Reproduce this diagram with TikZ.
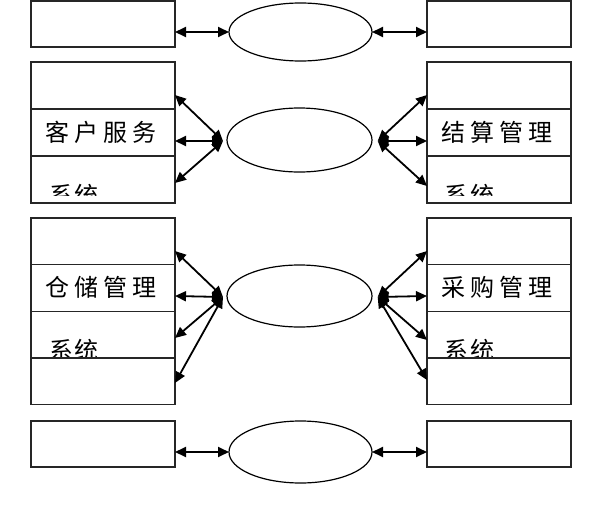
\documentclass[tikz,border=0pt]{standalone}
\usepackage{fontspec}
\newfontfamily\cjk{Noto Sans CJK SC}
\usetikzlibrary{arrows.meta,shapes.geometric}
\tikzset{
  box/.style={draw=black!85, line width=1.3pt, minimum width=144pt, inner sep=0pt, outer sep=0pt, anchor=north west},
  oval/.style={draw=black, line width=1.2pt, ellipse, inner sep=0pt, outer sep=0pt},
  dbl/.style={{Triangle[length=11pt,width=10pt]}-{Triangle[length=11pt,width=10pt]}, line width=1.8pt},
  txt/.style={font=\cjk\fontsize{24}{24}\selectfont, inner sep=0pt, anchor=base west, text=black}
}
\begin{document}
\begin{tikzpicture}[x=1pt,y=-1pt]
\useasboundingbox (0,0) rectangle (616,530);
% top row
\node[box, minimum height=46pt] (tl) at (31,1) {};
\node[box, minimum height=46pt] (tr) at (427,1) {};
\node[oval, minimum width=143pt, minimum height=58pt] (te) at (300.5,32) {};
\draw[dbl] (tl.east |- te.west) -- (te.west);
\draw[dbl] (te.east) -- (tr.west |- te.east);
% second block
\node[box, minimum height=47pt] (a1) at (31,62) {};
\node[box, minimum height=47pt] (a2) at (a1.south west) {};
\node[box, minimum height=47pt] (a3) at (a2.south west) {};
\node[box, minimum height=47pt] (b1) at (427,62) {};
\node[box, minimum height=47pt] (b2) at (b1.south west) {};
\node[box, minimum height=47pt] (b3) at (b2.south west) {};
\node[oval, minimum width=145pt, minimum height=64pt] (me) at (299.5,140) {};
\coordinate (pL) at (223,141);
\coordinate (pR) at (377.7,141);
\coordinate (la1) at (175,95);
\coordinate (la2) at (175,141);
\coordinate (la3) at (175,183);
\coordinate (ra1) at (427,95);
\coordinate (ra2) at (427,141);
\coordinate (ra3) at (427,186);
\foreach \t in {la1,la2,la3} \draw[dbl] (pL) -- (\t);
\foreach \t in {ra1,ra2,ra3} \draw[dbl] (pR) -- (\t);
\node[txt] (t1) at (45.5,141) {客\hspace{5pt}户\hspace{5pt}服\hspace{5pt}务};
\node[txt] (t2) at (441.5,141) {结\hspace{5pt}算\hspace{5pt}管\hspace{5pt}理};
\begin{scope}
  \clip (32,157) rectangle (174,195.5);
  \node[txt] (t3) at (49,204) {系\hspace{1.5pt}统};
\end{scope}
\begin{scope}
  \clip (428,157) rectangle (570,195.5);
  \node[txt] (t4) at (444.5,204) {系\hspace{1.5pt}统};
\end{scope}
% third block
\node[box, minimum height=46.67pt] (c1) at (31,218) {};
\node[box, minimum height=46.67pt] (c2) at (c1.south west) {};
\node[box, minimum height=46.67pt] (c3) at (c2.south west) {};
\node[box, minimum height=46.67pt] (c4) at (c3.south west) {};
\node[box, minimum height=46.67pt] (d1) at (427,218) {};
\node[box, minimum height=46.67pt] (d2) at (d1.south west) {};
\node[box, minimum height=46.67pt] (d3) at (d2.south west) {};
\node[box, minimum height=46.67pt] (d4) at (d3.south west) {};
\node[oval, minimum width=145pt, minimum height=62pt] (le) at (299.5,296) {};
\coordinate (qL) at (223,297);
\coordinate (qR) at (377.7,297);
\coordinate (lb1) at (175,251);
\coordinate (lb2) at (175,296);
\coordinate (lb3) at (175,338);
\coordinate (lb4) at (175,383);
\coordinate (rb1) at (427,251);
\coordinate (rb2) at (427,296);
\coordinate (rb3) at (427,340);
\coordinate (rb4) at (427,380);
\foreach \t in {lb1,lb2,lb3,lb4} \draw[dbl] (qL) -- (\t);
\foreach \t in {rb1,rb2,rb3,rb4} \draw[dbl] (qR) -- (\t);
\node[txt] (t5) at (45.5,296.5) {仓\hspace{5pt}储\hspace{5pt}管\hspace{5pt}理};
\node[txt] (t6) at (441.5,296) {采\hspace{5pt}购\hspace{5pt}管\hspace{5pt}理};
\begin{scope}
  \clip (32,312) rectangle (174,358);
  \node[txt] (t7) at (49,359) {系\hspace{1.5pt}统};
\end{scope}
\begin{scope}
  \clip (428,312) rectangle (570,358);
  \node[txt] (t8) at (444.5,359) {系\hspace{1.5pt}统};
\end{scope}
\draw[black!85, line width=1.3pt] (c3.south west) -- (c3.south east);
\draw[black!85, line width=1.3pt] (d3.south west) -- (d3.south east);
% bottom row
\node[box, minimum height=46pt] (bl) at (31,421) {};
\node[box, minimum height=46pt] (br) at (427,421) {};
\node[oval, minimum width=143pt, minimum height=62pt] (be) at (300.5,452) {};
\draw[dbl] (bl.east |- be.west) -- (be.west);
\draw[dbl] (be.east) -- (br.west |- be.east);
\end{tikzpicture}
\end{document}
